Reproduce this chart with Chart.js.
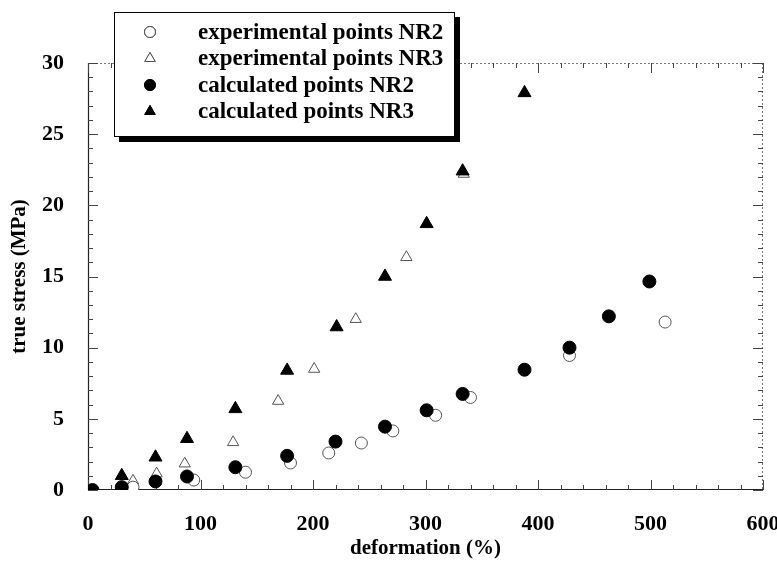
<!DOCTYPE html>
<html>
<head>
<meta charset="utf-8">
<script src="https://cdn.jsdelivr.net/npm/chart.js@4.4.1/dist/chart.umd.min.js"></script>
<style>
  html, body { margin: 0; padding: 0; background: #fff; }
  canvas { display: block; }
</style>
</head>
<body>
<canvas id="c" width="777" height="565"></canvas>
<script>
// ---- data ----
const expNR2X = [40, 94, 140, 180, 214, 243, 271, 309, 340, 428, 513];
const expNR2Y = [0.2, 0.7, 1.25, 1.9, 2.6, 3.3, 4.15, 5.25, 6.5, 9.45, 11.8];
const expNR3X = [40, 61, 86, 129, 169, 201, 238, 283, 334];
const expNR3Y = [0.65, 1.15, 1.85, 3.35, 6.25, 8.5, 12.0, 16.35, 22.2];
const calcNR2X = [4, 30, 60, 88, 131, 177, 220, 264, 301, 333, 388, 428, 463, 499];
const calcNR2Y = [0, 0.2, 0.6, 0.95, 1.6, 2.4, 3.4, 4.45, 5.6, 6.75, 8.45, 10.0, 12.2, 14.65];
const calcNR3X = [30, 60, 88, 131, 177, 221, 264, 301, 333, 388];
const calcNR3Y = [1.0, 2.3, 3.6, 5.7, 8.4, 11.45, 15.0, 18.7, 22.4, 27.9];
const seriesLabels = ["experimental points NR2", "experimental points NR3", "calculated points NR2", "calculated points NR3"];
const xTitle = "deformation (%)";
const yTitle = "true stress (MPa)";
const xMin = 0, xMax = 600, xMajor = 100, xMinor = 20;
const yMin = 0, yMax = 30, yMajor = 5, yMinor = 1;

const pts = (xs, ys) => xs.map((x, i) => ({x: x, y: ys[i]}));
const FONT = "'Liberation Serif', 'Times New Roman', serif";

const datasets = [
  { label: seriesLabels[2], data: pts(calcNR2X, calcNR2Y), pointStyle: 'circle', pointRadius: 6.5,
    backgroundColor: '#000', borderColor: '#000', borderWidth: 1, order: 0 },
  { label: seriesLabels[3], data: pts(calcNR3X, calcNR3Y), pointStyle: 'triangle', pointRadius: 7.5,
    backgroundColor: '#000', borderColor: '#000', borderWidth: 1, order: 1 },
  { label: seriesLabels[0], data: pts(expNR2X, expNR2Y), pointStyle: 'circle', pointRadius: 6,
    backgroundColor: '#fff', borderColor: '#555', borderWidth: 1, order: 2 },
  { label: seriesLabels[1], data: pts(expNR3X, expNR3Y), pointStyle: 'triangle', pointRadius: 6.5,
    backgroundColor: '#fff', borderColor: '#555', borderWidth: 1, order: 3 }
];

const framePlugin = {
  id: 'frame',
  beforeDatasetsDraw(chart) {
    const {ctx, chartArea: a, scales: {x, y}} = chart;
    ctx.save();
    ctx.strokeStyle = '#777';
    ctx.lineWidth = 1;
    ctx.setLineDash([2, 2]);
    ctx.beginPath();
    ctx.moveTo(a.left, a.top + 0.5); ctx.lineTo(a.right, a.top + 0.5);
    ctx.moveTo(a.right - 0.5, a.top); ctx.lineTo(a.right - 0.5, a.bottom);
    ctx.stroke();
    ctx.setLineDash([]);
    ctx.strokeStyle = '#222';
    ctx.lineWidth = 1.2;
    ctx.beginPath();
    ctx.moveTo(a.left + 0.5, a.top); ctx.lineTo(a.left + 0.5, a.bottom);
    ctx.moveTo(a.left, a.bottom - 0.5); ctx.lineTo(a.right, a.bottom - 0.5);
    ctx.stroke();
    ctx.lineWidth = 1;
    ctx.beginPath();
    for (let v = xMin; v <= xMax; v += xMinor) {
      const px = Math.round(x.getPixelForValue(v)) + 0.5;
      const len = (v % xMajor === 0) ? 10 : 5;
      ctx.moveTo(px, a.bottom); ctx.lineTo(px, a.bottom - len);
      ctx.moveTo(px, a.top); ctx.lineTo(px, a.top + len);
    }
    for (let v = yMin; v <= yMax; v += yMinor) {
      const py = Math.round(y.getPixelForValue(v)) + 0.5;
      const len = (v % yMajor === 0) ? 10 : 5;
      ctx.moveTo(a.left, py); ctx.lineTo(a.left + len, py);
      ctx.moveTo(a.right, py); ctx.lineTo(a.right - len, py);
    }
    ctx.strokeStyle = '#444';
    ctx.stroke();
    ctx.restore();
  },
  afterDraw(chart) {
    const ctx = chart.ctx;
    const bx = 114, by = 12, bw = 341, bh = 125, sh = 5;
    ctx.save();
    ctx.fillStyle = '#000';
    ctx.fillRect(bx + sh, by + sh, bw, bh);
    ctx.fillStyle = '#fff';
    ctx.fillRect(bx, by, bw, bh);
    ctx.strokeStyle = '#000';
    ctx.lineWidth = 1;
    ctx.strokeRect(bx + 0.5, by + 0.5, bw - 1, bh - 1);
    const order = [2, 3, 0, 1];
    const rowY = [32, 58.5, 85, 111.5];
    ctx.font = "bold 23px " + FONT;
    ctx.textBaseline = 'middle';
    ctx.textAlign = 'left';
    order.forEach((di, i) => {
      const ds = chart.data.datasets[di];
      const r = ds.pointStyle === 'triangle' ? 6 : 5.5;
      Chart.helpers.drawPoint(ctx, {
        pointStyle: ds.pointStyle, radius: r, borderWidth: ds.borderWidth, rotation: 0
      }, 150, rowY[i]);
      ctx.fillStyle = ds.backgroundColor;
      ctx.strokeStyle = ds.borderColor;
      ctx.lineWidth = ds.borderWidth;
      ctx.fill(); ctx.stroke();
      ctx.fillStyle = '#000';
      ctx.fillText(ds.label, 198, rowY[i] + 1);
    });
    ctx.restore();
  }
};

new Chart(document.getElementById('c'), {
  type: 'scatter',
  data: { datasets },
  options: {
    responsive: false,
    animation: false,
    layout: { padding: { left: 0, right: 14, top: 63, bottom: 0 } },
    plugins: { legend: { display: false }, tooltip: { enabled: false } },
    scales: {
      x: {
        type: 'linear', min: xMin, max: xMax,
        border: { display: false },
        grid: { display: false, drawTicks: false },
        ticks: { stepSize: xMajor, padding: 21, color: '#000', font: { family: FONT, size: 22, weight: 'bold' }, maxRotation: 0 },
        title: { display: true, text: xTitle, color: '#000', padding: { top: 0, bottom: 4 }, font: { family: FONT, size: 21, weight: 'bold' } },
        afterFit(s) { s.height = 75; s.paddingLeft = 0; s.paddingRight = 0; }
      },
      y: {
        type: 'linear', min: yMin, max: yMax,
        border: { display: false },
        grid: { display: false, drawTicks: false },
        ticks: { stepSize: yMajor, padding: 24, color: '#000', font: { family: FONT, size: 22, weight: 'bold' } },
        title: { display: true, text: yTitle, color: '#000', padding: { top: 7, bottom: 0 }, font: { family: FONT, size: 21, weight: 'bold' } },
        afterFit(s) { s.width = 88; s.paddingTop = 0; s.paddingBottom = 0; }
      }
    }
  },
  plugins: [framePlugin]
});
</script>
</body>
</html>
